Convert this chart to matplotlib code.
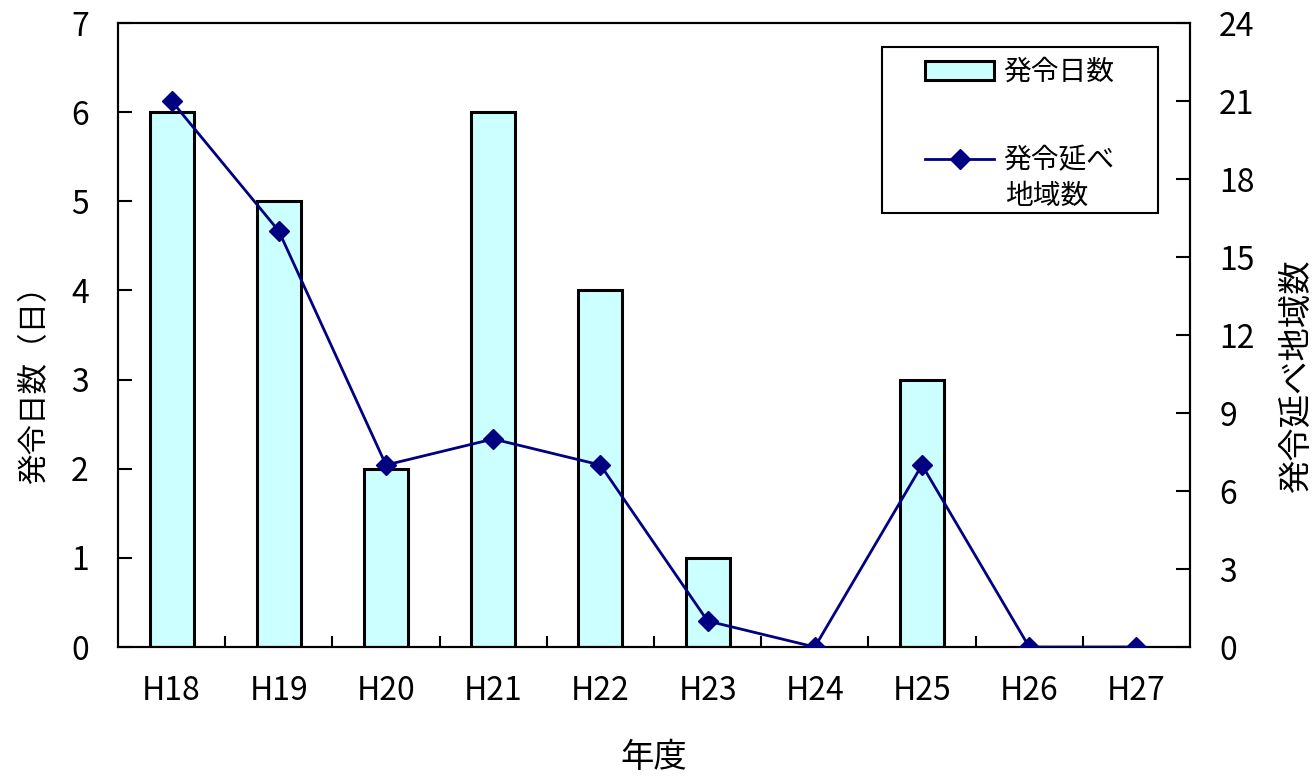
import matplotlib
matplotlib.use("Agg")
import matplotlib.pyplot as plt
from matplotlib.ticker import FixedLocator
from matplotlib.patches import Rectangle

plt.rcParams['font.family'] = ['Noto Sans CJK JP', 'DejaVu Sans']

years = ["H18", "H19", "H20", "H21", "H22", "H23", "H24", "H25", "H26", "H27"]
days = [6, 5, 2, 6, 4, 1, 0, 3, 0, 0]
areas = [21, 16, 7, 8, 7, 1, 0, 7, 0, 0]

W, H = 1316, 777
AX_L, AX_R, AX_T, AX_B = 118, 1190, 23, 647
fig = plt.figure(figsize=(W/100, H/100), dpi=100)
ax = fig.add_axes([AX_L/W, 1-AX_B/H, (AX_R-AX_L)/W, (AX_B-AX_T)/H])
x = list(range(len(years)))

ax.bar(x, days, width=0.41, color="#ccffff", edgecolor="black", linewidth=2.2,
       label="発令日数", zorder=2)
ax.set_xlim(-0.5, len(years) - 0.5)
ax.set_ylim(0, 7)
ax.set_yticks(range(0, 8))
ax.set_xticks(x)
ax.set_xticklabels(years)
ax.xaxis.set_minor_locator(FixedLocator([i + 0.5 for i in x[:-1]]))
ax.tick_params(axis='x', which='major', length=0, pad=20, labelsize=23)
ax.tick_params(axis='x', which='minor', length=8, direction='in', width=1.5)
ax.tick_params(axis='y', direction='in', length=10, width=1.5, labelsize=23, pad=21)
for s in ax.spines.values():
    s.set_linewidth(1.5)

ax2 = ax.twinx()
ax2.plot(x, areas, color="#000080", linewidth=2, marker="D", markersize=10,
         label="発令延べ", zorder=3)
ax2.set_ylim(0, 24)
ax2.set_yticks(range(0, 25, 3))
ax2.tick_params(axis='y', direction='in', length=10, width=1.5, labelsize=23, pad=21)
for s in ax2.spines.values():
    s.set_linewidth(1.5)

ax.set_ylabel("発令日数（日）", fontsize=22)
ax.yaxis.set_label_coords((50-AX_L)/(AX_R-AX_L), (AX_B-377)/(AX_B-AX_T))
ax2.set_ylabel("発令延べ地域数", fontsize=24)
ax2.yaxis.set_label_coords((1279-AX_L)/(AX_R-AX_L), (AX_B-375)/(AX_B-AX_T))
ax.set_xlabel("年度", fontsize=24, labelpad=24)

# legend frame
fig.patches.append(Rectangle((882/W, 1-213/H), (1158-882)/W, (213-47)/H,
                             transform=fig.transFigure, facecolor="white",
                             edgecolor="black", linewidth=1.5, zorder=5))
h1, l1 = ax.get_legend_handles_labels()
h2, l2 = ax2.get_legend_handles_labels()
leg = fig.legend(h1 + h2, l1 + l2, loc="upper left",
                 bbox_to_anchor=(925/W, 1-57/H), bbox_transform=fig.transFigure,
                 fontsize=20, frameon=False, labelspacing=2.1,
                 handlelength=2.5, handletextpad=0.3,
                 borderpad=0, borderaxespad=0)
leg.set_zorder(6)
fig.text(1005/W, 1-196/H, "地域数", fontsize=20, va="center", ha="left", zorder=7)

fig.savefig("out.png", dpi=100)
